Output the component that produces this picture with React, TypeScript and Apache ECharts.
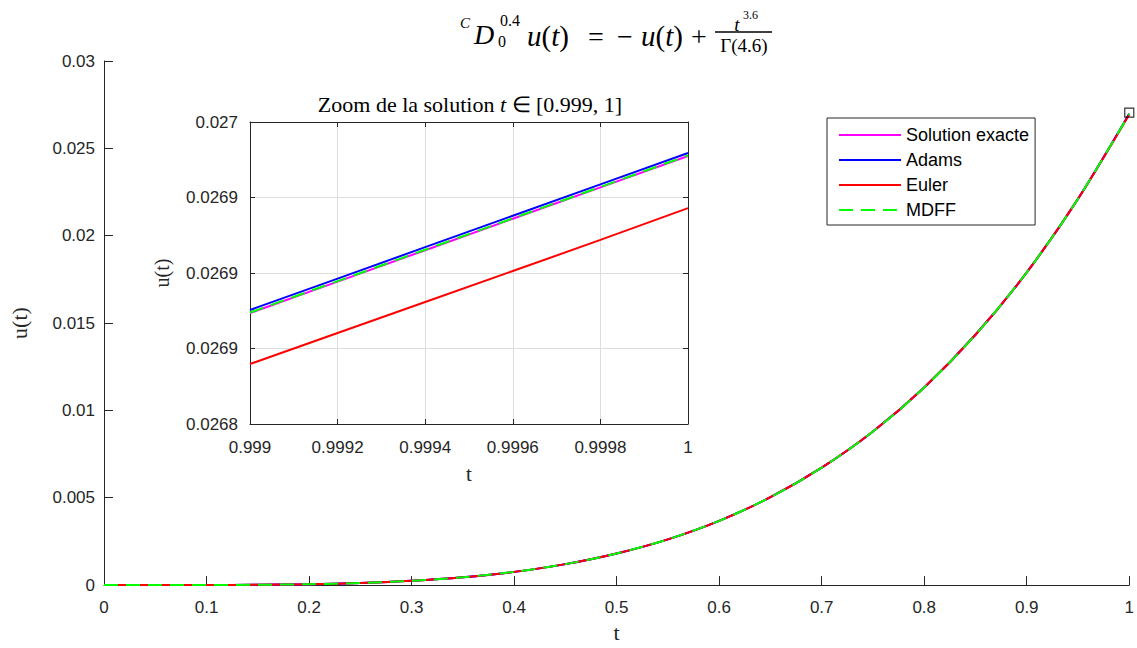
import React, { useEffect, useRef } from "react";
import * as echarts from "echarts";

// ---- main plot data ----
const tMain = [0, 0.05, 0.1, 0.15, 0.2, 0.25, 0.3, 0.35, 0.4, 0.45, 0.5, 0.55, 0.6, 0.65, 0.7, 0.75, 0.8, 0.85, 0.9, 0.95, 1];
const exactMain = [0, 0.00000023, 0.0000034, 0.0000165, 0.000051, 0.000121, 0.000247, 0.00045, 0.000757, 0.0012, 0.00181, 0.00262, 0.00368, 0.00503, 0.00672, 0.00879, 0.01131, 0.01433, 0.0179, 0.02211, 0.026978];
const adamsMain = [0, 0.00000023, 0.0000034, 0.0000165, 0.000051, 0.000121, 0.000247, 0.00045, 0.000757, 0.0012, 0.00181, 0.00262, 0.00368, 0.00503, 0.00672, 0.00879, 0.01131, 0.01433, 0.0179, 0.02211, 0.02698];
const eulerMain = [0, 0.00000023, 0.0000034, 0.0000165, 0.000051, 0.000121, 0.000247, 0.00045, 0.000757, 0.0012, 0.00181, 0.00262, 0.00368, 0.00503, 0.00672, 0.00879, 0.01131, 0.01433, 0.0179, 0.02211, 0.026943];
const mdffMain = [0, 0.00000023, 0.0000034, 0.0000165, 0.000051, 0.000121, 0.000247, 0.00045, 0.000757, 0.0012, 0.00181, 0.00262, 0.00368, 0.00503, 0.00672, 0.00879, 0.01131, 0.01433, 0.0179, 0.02211, 0.026978];

// ---- zoom (inset) data ----
const tZoom = [0.999, 0.9992, 0.9994, 0.9996, 0.9998, 1];
const exactZoom = [0.0268735, 0.0268943, 0.0269151, 0.0269359, 0.0269567, 0.0269775];
const adamsZoom = [0.0268755, 0.0268963, 0.0269171, 0.0269379, 0.0269587, 0.0269795];
const eulerZoom = [0.0268397, 0.0268603, 0.0268808, 0.0269013, 0.0269219, 0.026943];
const mdffZoom = [0.0268738, 0.0268946, 0.0269154, 0.0269362, 0.026957, 0.0269778];

const zoomXLabels = ["0.999", "0.9992", "0.9994", "0.9996", "0.9998", "1"];
const zoomYLabels = ["0.0268", "0.0269", "0.0269", "0.0269", "0.027"];
const zoomBoxPoint = [1, 0.02705];

const seriesNames = ["Solution exacte", "Adams", "Euler", "MDFF"];
const seriesColors = ["#ff00ff", "#0000ff", "#ff0000", "#00ff00"];

const AX = "#262626";
const SANS = "Liberation Sans";
const SERIF = "Liberation Serif";

export default function App() {
  const ref = useRef<HTMLDivElement>(null);
  useEffect(() => {
    const chart = echarts.init(ref.current!, undefined, { renderer: "svg" });
    const mainData = [exactMain, adamsMain, eulerMain, mdffMain];
    const zoomData = [exactZoom, adamsZoom, eulerZoom, mdffZoom];

    const lineSeries = (i: number, grid: 0 | 1) => {
      const ys = grid === 0 ? mainData[i] : zoomData[i];
      const xs = grid === 0 ? tMain : tZoom;
      return {
        type: "line",
        name: seriesNames[i],
        xAxisIndex: grid === 0 ? 0 : 1,
        yAxisIndex: grid === 0 ? 0 : 1,
        data: xs.map((t, k) => [t, ys[k]]),
        symbol: "none",
        showSymbol: false,
        smooth: grid === 0 ? 0.3 : false,
        clip: true,
        color: seriesColors[i],
        lineStyle: {
          color: seriesColors[i],
          width: 2,
          type: i === 3 ? [14, 8] : "solid",
        },
        z: grid === 0 ? 2 + i : 10 + i,
      };
    };

    const labelStyle = { color: AX, fontFamily: SANS, fontSize: 17 };

    const serifI = (size: number) => `italic ${size}px "${SERIF}"`;
    const serifR = (size: number) => `${size}px "${SERIF}"`;

    const option: any = {
      animation: false,
      backgroundColor: "#fff",
      grid: [
        { left: 103, right: 6, top: 61, bottom: 58 },
        { left: 250, right: 449, top: 122, bottom: 224, show: true, backgroundColor: "#fff", borderWidth: 0, z: 5 },
      ],
      xAxis: [
        {
          type: "value", gridIndex: 0, min: 0, max: 1, interval: 0.1,
          axisLine: { show: true, onZero: false, lineStyle: { color: AX, width: 1 } },
          axisTick: { show: true, inside: true, length: 9, lineStyle: { color: AX } },
          axisLabel: { ...labelStyle, margin: 14 },
          splitLine: { show: false },
          name: "t", nameLocation: "middle", nameGap: 32,
          nameTextStyle: { fontFamily: SERIF, fontSize: 22, color: AX },
        },
        {
          type: "value", gridIndex: 1, min: 0.999, max: 1, interval: 0.0002,
          axisLine: { show: true, onZero: false, lineStyle: { color: AX, width: 1 } },
          axisTick: { show: true, inside: true, length: 5, lineStyle: { color: AX } },
          axisLabel: {
            ...labelStyle, margin: 15,
            formatter: (v: number) => zoomXLabels[Math.round((v - 0.999) / 0.0002)] ?? "",
          },
          splitLine: { show: true, lineStyle: { color: "#dedede", width: 1 } },
          name: "t", nameLocation: "middle", nameGap: 39,
          nameTextStyle: { fontFamily: SERIF, fontSize: 21, color: AX },
          z: 6,
        },
        {
          type: "value", gridIndex: 1, min: 0.999, max: 1, interval: 0.0002, position: "top",
          axisLine: { show: true, onZero: false, lineStyle: { color: AX, width: 1 } },
          axisTick: { show: true, inside: true, length: 5, lineStyle: { color: AX } },
          axisLabel: { show: false },
          splitLine: { show: false },
          z: 6,
        },
      ],
      yAxis: [
        {
          type: "value", gridIndex: 0, min: 0, max: 0.03, interval: 0.005,
          axisLine: { show: true, onZero: false, lineStyle: { color: AX, width: 1 } },
          axisTick: { show: true, inside: true, length: 9, lineStyle: { color: AX } },
          axisLabel: { ...labelStyle, margin: 9 },
          splitLine: { show: false },
          name: "u(t)", nameLocation: "middle", nameGap: 74, nameRotate: 90,
          nameTextStyle: { fontFamily: SERIF, fontSize: 22, color: AX },
        },
        {
          type: "value", gridIndex: 1, min: 0.0268, max: 0.027, interval: 0.00005,
          axisLine: { show: true, onZero: false, lineStyle: { color: AX, width: 1 } },
          axisTick: { show: true, inside: true, length: 5, lineStyle: { color: AX } },
          axisLabel: {
            ...labelStyle, margin: 12,
            formatter: (v: number) => zoomYLabels[Math.round((v - 0.0268) / 0.00005)] ?? "",
          },
          splitLine: { show: true, lineStyle: { color: "#dedede", width: 1 } },
          name: "u(t)", nameLocation: "middle", nameGap: 78, nameRotate: 90,
          nameTextStyle: { fontFamily: SERIF, fontSize: 20, color: AX },
          z: 6,
        },
        {
          type: "value", gridIndex: 1, min: 0.0268, max: 0.027, interval: 0.00005, position: "right",
          axisLine: { show: true, onZero: false, lineStyle: { color: AX, width: 1 } },
          axisTick: { show: true, inside: true, length: 5, lineStyle: { color: AX } },
          axisLabel: { show: false },
          splitLine: { show: false },
          z: 6,
        },
      ],
      legend: {
        data: seriesNames,
        orient: "vertical",
        left: 827,
        top: 118,
        itemWidth: 62,
        itemHeight: 14,
        itemGap: 7,
        padding: [8, 6, 6, 11],
        borderColor: AX,
        borderWidth: 1,
        borderRadius: 0,
        backgroundColor: "#fff",
        itemStyle: { color: "rgba(0,0,0,0)", borderWidth: 0, opacity: 0 },
        textStyle: { fontFamily: SANS, fontSize: 18, color: "#000", lineHeight: 14 },
      },
      series: [
        lineSeries(0, 0), lineSeries(1, 0), lineSeries(2, 0), lineSeries(3, 0),
        lineSeries(0, 1), lineSeries(1, 1), lineSeries(2, 1), lineSeries(3, 1),
        {
          type: "scatter",
          name: "zoomBox",
          xAxisIndex: 0, yAxisIndex: 0,
          data: [zoomBoxPoint],
          symbol: "rect",
          symbolSize: 9,
          clip: false,
          silent: true,
          itemStyle: { color: "rgba(0,0,0,0)", borderColor: "#000", borderWidth: 1.2 },
          z: 10,
        },
      ],
      graphic: [
        { type: "text", x: 460, y: 23, style: { text: "C", font: serifI(15), fill: "#000", textAlign: "left", textVerticalAlign: "middle" } },
        { type: "text", x: 474, y: 34, style: { text: "D", font: serifI(28), fill: "#000", textAlign: "left", textVerticalAlign: "middle" } },
        { type: "text", x: 500, y: 20, style: { text: "0.4", font: serifR(16), fill: "#000", textAlign: "left", textVerticalAlign: "middle" } },
        { type: "text", x: 498, y: 41, style: { text: "0", font: serifR(16), fill: "#000", textAlign: "left", textVerticalAlign: "middle" } },
        {
          type: "text", x: 548, y: 36,
          style: {
            text: "{i|u}{r|(}{i|t}{r|)}", textAlign: "center", textVerticalAlign: "middle", fill: "#000",
            rich: { i: { font: serifI(29) }, r: { font: serifR(29) } },
          },
        },
        { type: "text", x: 596, y: 36, style: { text: "=", font: serifR(28), fill: "#000", textAlign: "center", textVerticalAlign: "middle" } },
        { type: "text", x: 625, y: 36, style: { text: "\u2212", font: serifR(28), fill: "#000", textAlign: "center", textVerticalAlign: "middle" } },
        {
          type: "text", x: 662, y: 36,
          style: {
            text: "{i|u}{r|(}{i|t}{r|)}", textAlign: "center", textVerticalAlign: "middle", fill: "#000",
            rich: { i: { font: serifI(29) }, r: { font: serifR(29) } },
          },
        },
        { type: "text", x: 699, y: 36, style: { text: "+", font: serifR(28), fill: "#000", textAlign: "center", textVerticalAlign: "middle" } },
        { type: "text", x: 737, y: 24, style: { text: "t", font: serifI(19), fill: "#000", textAlign: "center", textVerticalAlign: "middle" } },
        { type: "text", x: 743, y: 15, style: { text: "3.6", font: serifR(12), fill: "#000", textAlign: "left", textVerticalAlign: "middle" } },
        { type: "line", shape: { x1: 715, y1: 32, x2: 772, y2: 32 }, style: { stroke: "#000", lineWidth: 1.3 } },
        { type: "text", x: 744, y: 45, style: { text: "\u0393(4.6)", font: serifR(19), fill: "#000", textAlign: "center", textVerticalAlign: "middle" } },
        {
          type: "text", x: 470, y: 104, z: 20,
          style: {
            text: "{r|Zoom de la solution }{i|t}{r| \u2208 [0.999, 1]}", textAlign: "center", textVerticalAlign: "middle", fill: "#000",
            rich: { i: { font: serifI(22) }, r: { font: serifR(22) } },
          },
        },
      ],
    };
    chart.setOption(option);
    return () => chart.dispose();
  }, []);
  return (
    <div
      ref={ref}
      style={{ position: "fixed", left: 0, top: 0, width: 1137, height: 648, background: "#fff" }}
    />
  );
}
